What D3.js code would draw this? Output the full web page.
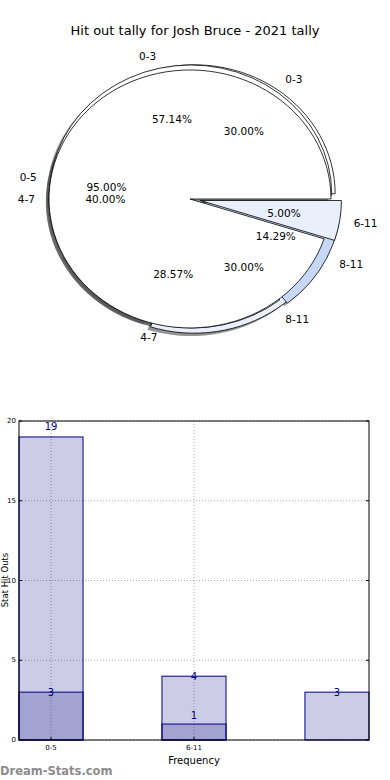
<!DOCTYPE html>
<html><head><meta charset="utf-8">
<script src="https://cdn.jsdelivr.net/npm/d3@7"></script>
<style>body{margin:0;background:#fff} svg{display:block} text{font-family:"DejaVu Sans",sans-serif}</style>
</head><body><svg id="c" width="390" height="780"></svg>
<script>
const title = "Hit out tally for Josh Bruce - 2021 tally";
const pie1Labels = ["0-5", "6-11"];
const pie1Values = [95, 5];
const pie2Labels = ["0-3", "4-7", "8-11"];
const pie2Values = [57.14, 28.57, 14.29];
const pie3Labels = ["0-3", "4-7", "8-11"];
const pie3Values = [30, 40, 30];
const barCategories = ["0-5", "6-11", ""];
const barTotals = [19, 4, 3];
const barSubset = [3, 1, 0];
const yTicks = [0, 5, 10, 15, 20];

const svg = d3.select("#c");
svg.append("text").attr("x", 195).attr("y", 30).attr("text-anchor", "middle")
  .attr("dominant-baseline", "central").style("font-size", "13px").text(title);

// ---------- pies (matplotlib-like, elliptical axes) ----------
const C = {x: 190, y: 199, rx: 141, ry: 129};
const pies = [
  {labels: pie3Labels, values: pie3Values, explode: [0.05, 0, 0.05], colors: ["#ffffff", "#ffffff", "#e9f0fc"], dx: 0},
  {labels: pie2Labels, values: pie2Values, explode: [0.04, 0, 0.06], colors: ["#ffffff", "#ffffff", "#c6d8f6"], dx: 2},
  {labels: pie1Labels, values: pie1Values, explode: [0, 0.075], colors: ["#ffffff", "#e9f0fc"], dx: 0}
];
const pieGen = d3.pie().sort(null).startAngle(Math.PI / 2).endAngle(Math.PI / 2 - 2 * Math.PI);
const arcGen = d3.arc().innerRadius(0).outerRadius(1);
pies.forEach(p => {
  p.arcs = pieGen(p.values).map((a, i) => {
    const m = (a.startAngle + a.endAngle) / 2;
    const e = p.explode[i];
    return {a, i, m, e, cx: C.x + p.dx + e * C.rx * Math.sin(m), cy: C.y - e * C.ry * Math.cos(m)};
  });
});
const gShadow = svg.append("g"), gWedge = svg.append("g"), gText = svg.append("g");
pies.forEach(p => {
  p.arcs.forEach(w => {
    gShadow.append("path").attr("d", arcGen(w.a))
      .attr("transform", `translate(${w.cx - 0.022 * C.rx},${w.cy + 0.022 * C.ry}) scale(${C.rx},${C.ry})`)
      .attr("fill", "#4c4c4c").attr("opacity", 0.6);
  });
});
pies.forEach(p => {
  p.arcs.forEach(w => {
    gWedge.append("path").attr("d", arcGen(w.a))
      .attr("transform", `translate(${w.cx},${w.cy}) scale(${C.rx},${C.ry})`)
      .attr("fill", p.colors[w.i]).attr("stroke", "#000").attr("stroke-width", 0.8)
      .attr("vector-effect", "non-scaling-stroke").attr("stroke-linejoin", "round");
  });
});
pies.forEach(p => {
  p.arcs.forEach(w => {
    const s = Math.sin(w.m), c = Math.cos(w.m);
    const cx0 = C.x + p.dx, cy0 = C.y;
    gText.append("text")
      .attr("x", cx0 + (1.1 + w.e) * C.rx * s).attr("y", cy0 - (1.1 + w.e) * C.ry * c)
      .attr("text-anchor", s > 0 ? "start" : "end").attr("dominant-baseline", "central")
      .style("font-size", "10.5px").text(p.labels[w.i]);
    gText.append("text")
      .attr("x", cx0 + (0.6 + w.e) * C.rx * s).attr("y", cy0 - (0.6 + w.e) * C.ry * c)
      .attr("text-anchor", "middle").attr("dominant-baseline", "central")
      .style("font-size", "10.5px").text(d3.format(".2f")(p.values[w.i]) + "%");
  });
});

// ---------- bar chart ----------
const B = {l: 19, r: 369, t: 421, b: 740};
const x = d3.scaleBand().domain(d3.range(barCategories.length)).range([B.l, B.r]).paddingInner(0.552).paddingOuter(0);
const y = d3.scaleLinear().domain([0, 20]).range([B.b, B.t]);
const gb = svg.append("g");
yTicks.forEach(t => {
  gb.append("line").attr("x1", B.l).attr("x2", B.r).attr("y1", y(t)).attr("y2", y(t))
    .attr("stroke", "#aaa").attr("stroke-width", 1).attr("stroke-dasharray", "1,2");
});
barCategories.forEach((c, i) => {
  if (!c) return;
  const cx = x(i) + x.bandwidth() / 2;
  gb.append("line").attr("x1", cx).attr("x2", cx).attr("y1", B.t).attr("y2", B.b)
    .attr("stroke", "#aaa").attr("stroke-width", 1).attr("stroke-dasharray", "1,2");
});
[barTotals, barSubset].forEach(series => {
  gb.append("g").selectAll("rect").data(series.map((v, i) => ({v, i})).filter(d => d.v > 0))
    .enter().append("rect")
    .attr("x", d => x(d.i)).attr("width", x.bandwidth())
    .attr("y", d => y(d.v)).attr("height", d => y(0) - y(d.v))
    .attr("fill", "rgba(0,0,128,0.2)").attr("stroke", "#000080").attr("stroke-width", 1);
});
const totalNudge = [-10, 0, 0], subsetNudge = [0, -9, 0];
[[barTotals, totalNudge], [barSubset, subsetNudge]].forEach(([series, nudge]) => {
  series.forEach((d, i) => {
    if (d <= 0) return;
    gb.append("text").attr("x", x(i) + x.bandwidth() / 2).attr("y", y(d) + nudge[i])
      .attr("text-anchor", "middle").attr("dominant-baseline", "central")
      .attr("fill", "#000080").style("font-size", "10px").text(d);
  });
});
gb.append("rect").attr("x", B.l).attr("y", B.t).attr("width", B.r - B.l).attr("height", B.b - B.t)
  .attr("fill", "none").attr("stroke", "#000").attr("stroke-width", 1);
yTicks.forEach(t => {
  gb.append("line").attr("x1", B.l).attr("x2", B.l + 3).attr("y1", y(t)).attr("y2", y(t)).attr("stroke", "#000");
  gb.append("line").attr("x1", B.r).attr("x2", B.r - 3).attr("y1", y(t)).attr("y2", y(t)).attr("stroke", "#000");
  gb.append("text").attr("x", B.l - 3).attr("y", y(t)).attr("text-anchor", "end")
    .attr("dominant-baseline", "central").style("font-size", "7px").text(t);
});
barCategories.forEach((c, i) => {
  if (!c) return;
  const cx = x(i) + x.bandwidth() / 2;
  gb.append("line").attr("x1", cx).attr("x2", cx).attr("y1", B.b).attr("y2", B.b - 3).attr("stroke", "#000");
  gb.append("text").attr("x", cx).attr("y", B.b + 8).attr("text-anchor", "middle")
    .attr("dominant-baseline", "central").style("font-size", "7px").text(c);
});
svg.append("text").attr("x", (B.l + B.r) / 2).attr("y", 760).attr("text-anchor", "middle")
  .attr("dominant-baseline", "central").style("font-size", "10px").text("Frequency");
svg.append("text").attr("transform", `translate(8,580) rotate(-90)`).attr("text-anchor", "middle")
  .style("font-size", "8.5px").text("Stat Hit Outs");
svg.append("text").attr("x", 0).attr("y", 771).attr("dominant-baseline", "central")
  .attr("fill", "#8c8c8c").style("font-size", "11.5px").style("font-weight", "600").text("Dream-Stats.com");
</script></body></html>
